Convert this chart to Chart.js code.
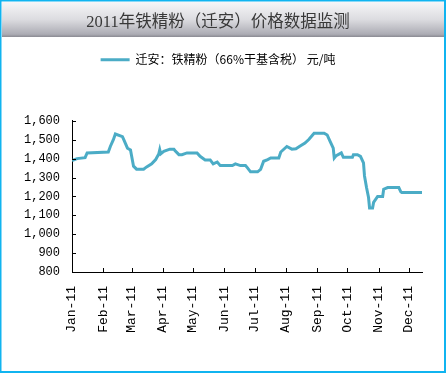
<!DOCTYPE html>
<html>
<head>
<meta charset="utf-8">
<script src="https://cdn.jsdelivr.net/npm/chart.js@4/dist/chart.umd.min.js"></script>
<style>
  html, body { margin: 0; padding: 0; background: #fff; }
  #chart { display: block; }
</style>
</head>
<body>
<canvas id="chart" width="447" height="373"></canvas>
<script>
// 迁安铁精粉价格 2011 — day of year (0 = Jan 1) and price (元/吨)
const days = [0, 5, 13, 15, 36, 38, 41, 43, 50, 51, 55, 58, 61, 64, 71, 74, 79, 83, 86, 87,
  88, 91, 97, 101, 102, 106, 109, 114, 124, 127, 132, 137, 140, 144, 147, 159, 162, 167, 172, 174,
  177, 184, 187, 190, 194, 197, 205, 207, 213, 218, 222, 227, 231, 235, 240, 250, 253, 256, 259, 260,
  262, 267, 269, 278, 279, 283, 286, 289, 290, 292, 294, 295, 298, 299, 303, 308, 309, 313, 324, 326,
  327, 347];
const prices = [1390, 1400, 1405, 1430, 1435, 1464, 1500, 1530, 1516, 1504, 1455, 1446, 1360, 1344, 1344, 1356, 1372, 1395, 1424, 1447,
  1425, 1438, 1450, 1450, 1443, 1421, 1421, 1430, 1430, 1412, 1393, 1393, 1372, 1382, 1363, 1363, 1372, 1363, 1363, 1351,
  1330, 1330, 1343, 1386, 1395, 1403, 1403, 1435, 1464, 1450, 1452, 1469, 1482, 1502, 1534, 1534, 1525, 1490, 1455, 1403,
  1416, 1430, 1407, 1407, 1421, 1421, 1412, 1377, 1308, 1247, 1194, 1139, 1139, 1168, 1200, 1200, 1238, 1247, 1247, 1224,
  1220, 1220];

const monthStarts = [0, 31, 59, 90, 120, 151, 181, 212, 243, 273, 304, 334];
const monthLabels = ['Jan-11', 'Feb-11', 'Mar-11', 'Apr-11', 'May-11', 'Jun-11',
  'Jul-11', 'Aug-11', 'Sep-11', 'Oct-11', 'Nov-11', 'Dec-11'];

const LINE_COLOR = '#4bacc6';
const FRAME_COLOR = '#10b4f0';

// frame + grey title band behind everything
const framePlugin = {
  id: 'frame',
  beforeDraw(chart) {
    const { ctx, width, height } = chart;
    ctx.save();
    ctx.fillStyle = '#fff';
    ctx.fillRect(0, 0, width, height);
    const g = ctx.createLinearGradient(0, 2, 0, 37);
    g.addColorStop(0, '#f6f6f8');
    g.addColorStop(0.5, '#dcdce0');
    g.addColorStop(0.92, '#acacb4');
    g.addColorStop(1, '#8a8a92');
    ctx.fillStyle = g;
    ctx.fillRect(2, 2, width - 4, 35);
    ctx.strokeStyle = FRAME_COLOR;
    ctx.lineWidth = 2;
    ctx.strokeRect(0.5, 0.5, width - 2.5, height - 1.5);
    ctx.restore();
  }
};

// extra room under the legend so the plot starts lower,
// and title/legend centred on the whole picture rather than the padded box
const legendGap = {
  id: 'legendGap',
  beforeInit(chart) {
    const fit = chart.legend.fit;
    chart.legend.fit = function () {
      fit.call(this);
      this.height += 45;
    };
  },
  afterLayout(chart) {
    [chart.titleBlock, chart.legend].forEach(b => {
      b.left += 7;
      b.right += 7;
    });
  }
};

// short tick marks pointing into the plot, like the Excel original
const innerTicks = {
  id: 'innerTicks',
  afterDraw(chart) {
    const { ctx, chartArea, scales } = chart;
    ctx.save();
    ctx.strokeStyle = '#000';
    ctx.lineWidth = 1;
    ctx.beginPath();
    scales.y.ticks.forEach(t => {
      const y = Math.round(scales.y.getPixelForValue(t.value)) + 0.5;
      ctx.moveTo(chartArea.left, y);
      ctx.lineTo(chartArea.left + 4, y);
    });
    monthStarts.forEach(d => {
      const x = Math.round(scales.x.getPixelForValue(d)) + 0.5;
      ctx.moveTo(x, chartArea.bottom);
      ctx.lineTo(x, chartArea.bottom - 4);
    });
    ctx.stroke();
    ctx.restore();
  }
};

new Chart(document.getElementById('chart'), {
  type: 'line',
  data: {
    datasets: [{
      label: '迁安：铁精粉（66%干基含税） 元/吨',
      data: days.map((d, i) => ({ x: d, y: prices[i] })),
      borderColor: LINE_COLOR,
      backgroundColor: LINE_COLOR,
      borderWidth: 3,
      pointRadius: 0,
      tension: 0,
      fill: false
    }]
  },
  options: {
    responsive: false,
    animation: false,
    devicePixelRatio: 1,
    layout: { padding: { left: 0, right: 25, top: 2, bottom: 0 } },
    plugins: {
      title: {
        display: true,
        text: '2011年铁精粉（迁安）价格数据监测',
        color: '#383838',
        font: { family: '"Liberation Serif", "Noto Sans CJK SC"', size: 16.5, weight: 'normal' },
        padding: { top: 11, bottom: 11 }
      },
      legend: {
        display: true,
        position: 'top',
        labels: {
          color: '#000',
          font: { family: '"Noto Sans CJK SC"', size: 12 },
          usePointStyle: true,
          pointStyle: 'line',
          pointStyleWidth: 29,
          padding: 10
        }
      },
      tooltip: { enabled: false }
    },
    scales: {
      x: {
        type: 'linear',
        min: 0,
        max: 347,
        afterBuildTicks: scale => { scale.ticks = monthStarts.map(v => ({ value: v })); },
        afterFit: scale => { scale.height = 101; },
        grid: { display: false, drawTicks: false },
        border: { display: true, color: '#000', width: 1 },
        ticks: {
          autoSkip: false,
          minRotation: 90,
          maxRotation: 90,
          padding: 14,
          color: '#000',
          font: { family: '"Liberation Mono", "DejaVu Sans Mono"', size: 13 },
          callback: v => monthLabels[monthStarts.indexOf(v)]
        }
      },
      y: {
        min: 800,
        max: 1600,
        afterFit: scale => { scale.width = 72; },
        grid: { display: false, drawTicks: false },
        border: { display: true, color: '#000', width: 1 },
        ticks: {
          stepSize: 100,
          padding: 12,
          color: '#000',
          font: { family: '"Liberation Mono", "DejaVu Sans Mono"', size: 12 },
          callback: v => v.toLocaleString('en-US')
        }
      }
    }
  },
  plugins: [framePlugin, legendGap, innerTicks]
});
</script>
</body>
</html>
